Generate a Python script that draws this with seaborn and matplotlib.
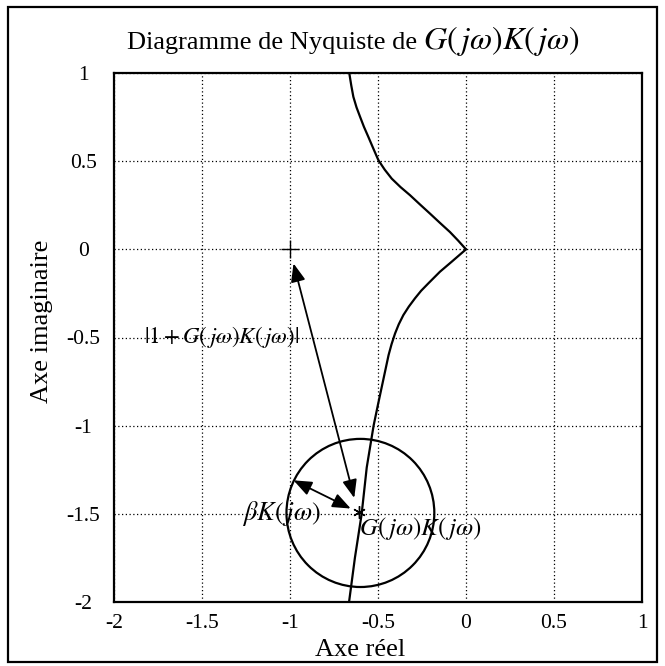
import numpy as np
import pandas as pd
import matplotlib
matplotlib.use("Agg")
import matplotlib.pyplot as plt
from matplotlib.patches import Circle, Rectangle
import seaborn as sns

# ---- data ----
# negative-frequency branch (top), from Im=1 down to the origin
re_top = [-0.663, -0.652, -0.640, -0.622, -0.602, -0.580, -0.555, -0.528, -0.498,
          -0.462, -0.422, -0.372, -0.318, -0.262, -0.205, -0.148, -0.091, -0.045, 0.0]
im_top = [0.998, 0.930, 0.865, 0.805, 0.752, 0.695, 0.638, 0.575, 0.506,
          0.452, 0.401, 0.353, 0.307, 0.255, 0.203, 0.150, 0.098, 0.050, 0.0]
# positive-frequency branch (bottom), from the origin down to Im=-2
re_bot = [0.0, -0.081, -0.148, -0.214, -0.255, -0.290, -0.325, -0.356, -0.382, -0.403,
          -0.423, -0.440, -0.470, -0.500, -0.525, -0.564, -0.593, -0.631, -0.665]
im_bot = [0.0, -0.070, -0.127, -0.193, -0.235, -0.278, -0.325, -0.373, -0.425, -0.477,
          -0.538, -0.600, -0.740, -0.880, -1.000, -1.237, -1.502, -1.748, -2.004]

critical_point = (-1.0, 0.0)
gk_point = (-0.61, -1.49)
circle_center = (-0.60, -1.495)
circle_radius = 0.42

arrow1 = [(-0.98, -0.08), (-0.635, -1.41)]
arrow2 = [(-0.98, -1.31), (-0.655, -1.47)]

xticks = [-2, -1.5, -1, -0.5, 0, 0.5, 1]
xticklabels = ["-2", "-1.5", "-1", "-0.5", "0", "0.5", "1"]
yticks = [-2, -1.5, -1, -0.5, 0, 0.5, 1]
yticklabels = ["-2", "-1.5", "-1", "-0.5", "0", "0.5", "1"]

# ---- style ----
sns.set_theme(style="white")
plt.rcParams["font.family"] = ["Liberation Serif", "DejaVu Serif"]
plt.rcParams["mathtext.fontset"] = "stix"
plt.rcParams["axes.unicode_minus"] = False

W, H = 665, 666
fig = plt.figure(figsize=(W / 100, H / 100), dpi=100)
ax = fig.add_axes([114 / W, 1 - 602 / H, 528 / W, 529 / H])

df_top = pd.DataFrame({"re": re_top, "im": im_top})
df_bot = pd.DataFrame({"re": re_bot, "im": im_bot})
sns.lineplot(data=df_top, x="re", y="im", sort=False, estimator=None,
             color="black", lw=1.6, ax=ax)
sns.lineplot(data=df_bot, x="re", y="im", sort=False, estimator=None,
             color="black", lw=1.6, ax=ax)

ax.add_patch(Circle(circle_center, circle_radius, fill=False,
                    edgecolor="black", lw=1.6))

ax.plot([critical_point[0]], [critical_point[1]], marker="+", ms=13,
        mew=1.0, color="black", ls="none")
ax.plot([gk_point[0]], [gk_point[1]], marker=(6, 2, 0), ms=9,
        mew=1.0, color="black", ls="none")

for (p0, p1) in (arrow1, arrow2):
    ax.annotate("", xy=p0, xytext=p1,
                arrowprops=dict(arrowstyle="<|-|>,head_length=0.55,head_width=0.22",
                                color="black", lw=1.3,
                                mutation_scale=20, shrinkA=0, shrinkB=0))

ax.text(-1.83, -0.5, r"$|1+G(\,j\omega)K(\,j\omega)|$", fontsize=16.5,
        ha="left", va="center", color="black")
ax.text(-1.27, -1.5, r"$\beta K(\,j\omega)$", fontsize=19,
        ha="left", va="center", color="black")
ax.text(-0.61, -1.585, r"$G(\,j\omega)K(\,j\omega)$", fontsize=18,
        ha="left", va="center", color="black")

ax.set_xlim(-2, 1)
ax.set_ylim(-2, 1)
ax.set_xticks(xticks)
ax.set_xticklabels(xticklabels)
ax.set_yticks(yticks)
ax.set_yticklabels(yticklabels)
ax.set_xlabel("")
ax.set_ylabel("")
ax.tick_params(axis="both", length=0, labelsize=15.5, colors="black")
ax.tick_params(axis="x", pad=9)
ax.tick_params(axis="y", pad=22)
for lab in ax.get_yticklabels():
    lab.set_horizontalalignment("center")

ax.grid(True, color="black", linestyle=(0, (1, 2)), lw=0.9)
for s in ax.spines.values():
    s.set_visible(True)
    s.set_color("black")
    s.set_linewidth(1.6)

fig.text(360 / W, 1 - 650 / H, "Axe réel", fontsize=19, ha="center",
         va="center", color="black")
fig.text(42 / W, 1 - 321 / H, "Axe imaginaire", fontsize=19, ha="center",
         va="center", rotation=90, color="black")

fig.text(417 / W, 1 - 49 / H, "Diagramme de Nyquiste de", fontsize=19,
         ha="right", va="baseline", color="black")
fig.text(423 / W, 1 - 49 / H, r"$G(\,j\omega)K(\,j\omega)$", fontsize=23,
         ha="left", va="baseline", color="black")

fig.patches.append(Rectangle((8 / W, 1 - 662 / H), 649 / W, 655 / H,
                             transform=fig.transFigure, fill=False,
                             edgecolor="black", lw=1.6))

fig.savefig("out.png", dpi=100)
